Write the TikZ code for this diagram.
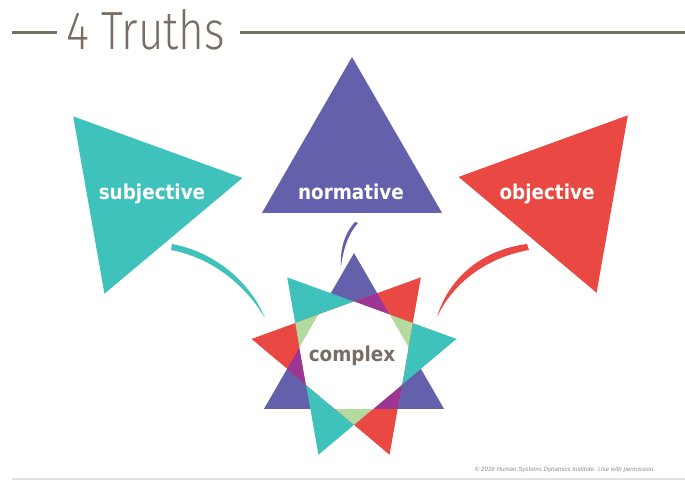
\documentclass[tikz,border=0pt]{standalone}
\usepackage{fontspec}
\usepackage{tikz}
\setmainfont{DejaVu Sans}
\newfontfamily\labelfont[FakeStretch=0.9]{DejaVu Sans}
\newfontfamily\titlefont[FakeStretch=0.82]{Fira Sans Light}
\newfontfamily\notefont{Liberation Sans}
\usetikzlibrary{positioning,calc}
\definecolor{tealc}{HTML}{40C2BC}
\definecolor{violetc}{HTML}{6560AB}
\definecolor{redc}{HTML}{EA4842}
\definecolor{plumc}{HTML}{9C3594}
\definecolor{mintc}{HTML}{B4DB9F}
\definecolor{greyc}{HTML}{786E64}
\definecolor{rulec}{HTML}{E4E0DE}

\begin{document}
\begin{tikzpicture}[x=1bp,y=1bp,
  tri/.style 2 args={insert path={(#1) +(#2:104) -- +(#2+120:104) -- +(#2+240:104) -- cycle}},
  lbl/.style={anchor=base,text=white,inner sep=0pt,
    font=\labelfont\bfseries\fontsize{20.5}{24}\selectfont}]
\useasboundingbox (0,0) rectangle (685,483);
% title
\coordinate (t1) at (12,450);
\coordinate (t2) at (57,450);
\coordinate (t3) at (240,450);
\coordinate (t4) at (685,450);
\node[anchor=base west,inner sep=0pt,text=greyc,
  font=\titlefont\fontsize{54}{60}\selectfont] (title) at (66,433) {4 Truths};
\draw[greyc,line width=3bp] (t1) -- (t2) (t3) -- (t4);
% the three truths
\coordinate (subj) at (140,287);
\coordinate (norm) at (352,322);
\coordinate (obj) at (561,288);
\coordinate (cx) at (354,126);
\fill[tealc,tri={subj}{130}];
\fill[violetc,tri={norm}{90}];
\fill[redc,tri={obj}{50}];
\node[lbl] (subjl) at (152,283) {subjective};
\node[lbl] (norml) at (351,283) {normative};
\node[lbl] (objl) at (547,283) {objective};
% star
\fill[violetc,tri={cx}{90}];
\fill[tealc,tri={cx}{130}];
\fill[redc,tri={cx}{50}];
\begin{scope}
  \clip[tri={cx}{90}];
  \fill[plumc,tri={cx}{50}];
\end{scope}
\begin{scope}
  \clip[tri={cx}{130}];
  \fill[mintc,tri={cx}{50}];
\end{scope}
\begin{scope}
  \clip[tri={cx}{90}];
  \clip[tri={cx}{130}];
  \fill[white,tri={cx}{50}];
\end{scope}
\node[lbl,text=greyc] (cxl) at (352,121) {complex};
% arcs into the star
\coordinate (sa) at (172,239);
\coordinate (sb) at (265,165);
\coordinate (na) at (355,261);
\coordinate (nb) at (341,216);
\coordinate (oa) at (527,239);
\coordinate (ob) at (437,166);
\fill[tealc] (sa) .. controls (215,231) and (250,201) .. (sb)
  .. controls (246,197) and (213,225) .. (171,233) -- cycle;
\fill[violetc] (na) .. controls (343,248) and (340,231) .. (nb)
  .. controls (343,233) and (348,249) .. (358,260) -- cycle;
\fill[redc] (oa) .. controls (480,233) and (448,203) .. (ob)
  .. controls (452,198) and (484,225) .. (529,233) -- cycle;
% footer
\node[text=black!45,inner sep=0pt,font=\notefont\itshape\fontsize{6.2}{7}\selectfont]
  (note) at (565,13) {\textcopyright{} 2016 Human Systems Dynamics Institute. Use with permission.};
\coordinate (r1) at (12,4);
\coordinate (r2) at (685,4);
\draw[rulec,line width=1.2bp] (r1) -- (r2);
\end{tikzpicture}
\end{document}
